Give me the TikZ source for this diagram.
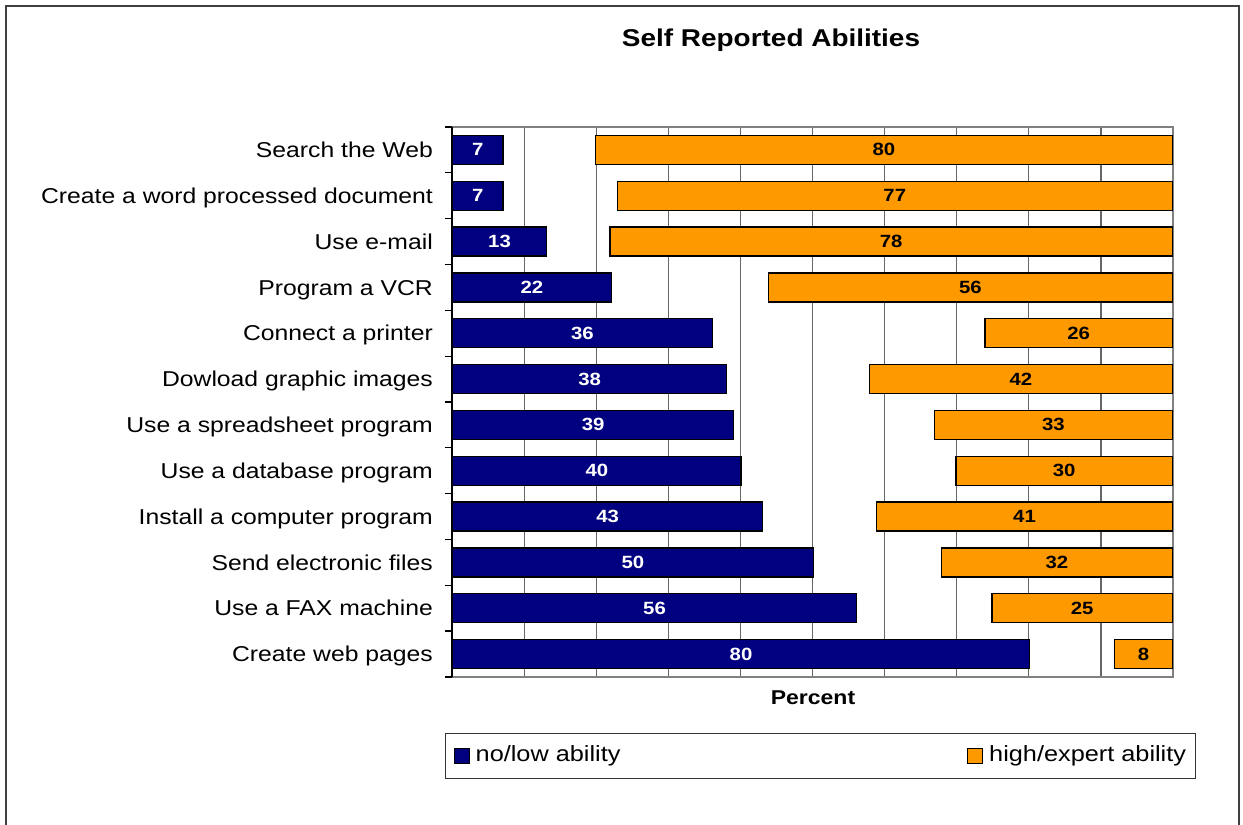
\documentclass[tikz,border=0pt]{standalone}
\usepackage{fontspec}
\setmainfont{Liberation Sans}[FakeStretch=1.15]
\usepackage{tikz}
\usetikzlibrary{positioning}
\usepackage{xcolor}
\definecolor{lowblue}{RGB}{0,0,128}
\definecolor{highorange}{RGB}{255,153,0}

\begin{document}
\begin{tikzpicture}[x=1pt, y=-1pt]
\tikzstyle{lowbar} = [rectangle, draw=black, line width=1.3pt, fill=lowblue, anchor=west, inner sep=0pt, minimum height=29pt, text=white, font=\fontsize{17.7}{20}\selectfont\bfseries]
\tikzstyle{highbar} = [rectangle, draw=black, line width=1.3pt, fill=highorange, anchor=east, inner sep=0pt, minimum height=29pt, text=black, font=\fontsize{17.7}{20}\selectfont\bfseries]
\tikzstyle{cat} = [anchor=base east, inner sep=0pt, font=\fontsize{21.5}{25}\selectfont]
\tikzstyle{gridline} = [draw=black!60, line width=1.2pt]
\tikzstyle{key} = [rectangle, draw=black, line width=1pt, minimum size=15pt, inner sep=0pt]
\tikzstyle{keytext} = [anchor=base west, inner sep=0pt, font=\fontsize{22}{26}\selectfont]

\useasboundingbox (0,0) rectangle (1243,825);
\draw [line width=2pt, draw=black!75] (6,826) -- (6,5.5) -- (1239,5.5) -- (1239,826);

% plot area
\foreach \k in {1,...,9}
  \draw [gridline] ({452+72.1*\k},127) -- ({452+72.1*\k},677);
\draw [draw=black!50, line width=1.3pt] (452,127) rectangle (1173,677);
\draw [line width=1.3pt] (452,127) -- (452,677);
\foreach \k in {0,...,12}
  \draw [line width=1.3pt] (445,{127+45.83*\k}) -- (452,{127+45.83*\k});

\node [font=\fontsize{24.3}{28}\selectfont\bfseries, anchor=base] (title) at (771,46.5) {Self Reported Abilities};

% categories
\node [cat] (web) at (433,157.5) {Search the Web};
\node [cat] (word) at (433,203.3) {Create a word processed document};
\node [cat] (email) at (433,249.2) {Use e-mail};
\node [cat] (vcr) at (433,295) {Program a VCR};
\node [cat] (printer) at (433,340.8) {Connect a printer};
\node [cat] (images) at (433,386.7) {Dowload graphic images};
\node [cat] (sheet) at (433,432.5) {Use a spreadsheet program};
\node [cat] (dbase) at (433,478.3) {Use a database program};
\node [cat] (install) at (433,524.2) {Install a computer program};
\node [cat] (files) at (433,570) {Send electronic files};
\node [cat] (fax) at (433,615.8) {Use a FAX machine};
\node [cat] (pages) at (433,661.7) {Create web pages};

% no/low ability
\node [lowbar, minimum width=7*7.21pt] (web-low) at (452,149.9) {7};
\node [lowbar, minimum width=7*7.21pt] (word-low) at (452,195.7) {7};
\node [lowbar, minimum width=13*7.21pt] (email-low) at (452,241.6) {13};
\node [lowbar, minimum width=22*7.21pt] (vcr-low) at (452,287.4) {22};
\node [lowbar, minimum width=36*7.21pt] (printer-low) at (452,333.2) {36};
\node [lowbar, minimum width=38*7.21pt] (images-low) at (452,379.1) {38};
\node [lowbar, minimum width=39*7.21pt] (sheet-low) at (452,424.9) {39};
\node [lowbar, minimum width=40*7.21pt] (dbase-low) at (452,470.7) {40};
\node [lowbar, minimum width=43*7.21pt] (install-low) at (452,516.6) {43};
\node [lowbar, minimum width=50*7.21pt] (files-low) at (452,562.4) {50};
\node [lowbar, minimum width=56*7.21pt] (fax-low) at (452,608.2) {56};
\node [lowbar, minimum width=80*7.21pt] (pages-low) at (452,654.1) {80};

% high/expert ability
\node [highbar, minimum width=80*7.21pt] (web-high) at (1173,149.9) {80};
\node [highbar, minimum width=77*7.21pt] (word-high) at (1173,195.7) {77};
\node [highbar, minimum width=78*7.21pt] (email-high) at (1173,241.6) {78};
\node [highbar, minimum width=56*7.21pt] (vcr-high) at (1173,287.4) {56};
\node [highbar, minimum width=26*7.21pt] (printer-high) at (1173,333.2) {26};
\node [highbar, minimum width=42*7.21pt] (images-high) at (1173,379.1) {42};
\node [highbar, minimum width=33*7.21pt] (sheet-high) at (1173,424.9) {33};
\node [highbar, minimum width=30*7.21pt] (dbase-high) at (1173,470.7) {30};
\node [highbar, minimum width=41*7.21pt] (install-high) at (1173,516.6) {41};
\node [highbar, minimum width=32*7.21pt] (files-high) at (1173,562.4) {32};
\node [highbar, minimum width=25*7.21pt] (fax-high) at (1173,608.2) {25};
\node [highbar, minimum width=8*7.21pt] (pages-high) at (1173,654.1) {8};

\node [font=\fontsize{20}{24}\selectfont\bfseries, anchor=base] (xlabel) at (813,704) {Percent};

% legend
\draw [line width=1pt, draw=black!80] (445,733) rectangle (1195,778);
\node [key, fill=lowblue] (keylow) at (461.5,755.5) {};
\node [keytext, right=6pt of keylow.east, anchor=west] (textlow) {no/low ability};
\node [key, fill=highorange] (keyhigh) at (975,755.5) {};
\node [keytext, right=6pt of keyhigh.east, anchor=west] (texthigh) {high/expert ability};
\end{tikzpicture}
\end{document}
